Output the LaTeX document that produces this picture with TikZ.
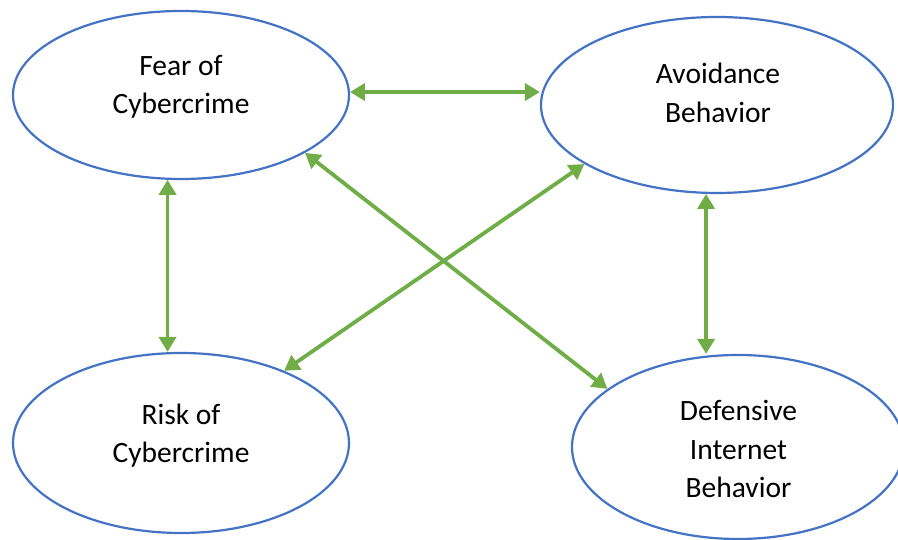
\documentclass[tikz,border=0pt]{standalone}
\usepackage{fontspec}
\setmainfont{Carlito}
\usetikzlibrary{arrows.meta,shapes.geometric}
\definecolor{ellblue}{HTML}{4472C4}
\definecolor{arrgreen}{HTML}{70AD47}
\begin{document}
\begin{tikzpicture}[x=1pt,y=1pt,
  construct/.style={ellipse, draw=ellblue, line width=2.2pt, inner sep=0pt},
  lbl/.style={align=center, inner sep=0pt, font=\fontsize{29.5}{38.5}\selectfont},
  link/.style={draw=arrgreen, line width=3.8pt,
    {Triangle[length=15pt,width=17pt]}-{Triangle[length=15pt,width=17pt]}}]
  % canvas
  \fill[white] (0,0) rectangle (898,540);
  \useasboundingbox (0,0) rectangle (898,540);

  % constructs
  \node[construct, minimum width=336pt, minimum height=168pt] (fear) at (181,445) {};
  \node[construct, minimum width=352pt, minimum height=176pt] (avoid) at (717,435) {};
  \node[construct, minimum width=336pt, minimum height=180pt] (risk) at (181,97) {};
  \node[construct, minimum width=332pt, minimum height=184pt] (def) at (738,93) {};

  % labels
  \node[lbl] (fearlbl) at (181,453) {Fear of\\Cybercrime};
  \node[lbl] (avoidlbl) at (718,447.3) {Avoidance\\Behavior};
  \node[lbl] (risklbl) at (181,104.5) {Risk of\\Cybercrime};
  \node[lbl] (deflbl) at (738.5,90.8) {Defensive\\Internet\\Behavior};

  % relations
  \draw[link] (fear.1.7) -- (fear.1.7 -| avoid.west);
  \draw[link] (fear.261) -- (fear.261 |- risk.north);
  \draw[link] (avoid.263.5) -- (avoid.263.5 |- def.north);
  \draw[link] (fear.335.2) -- (def.156.8);
  \draw[link] (risk.35.4) -- (avoid.204.2);
\end{tikzpicture}
\end{document}
